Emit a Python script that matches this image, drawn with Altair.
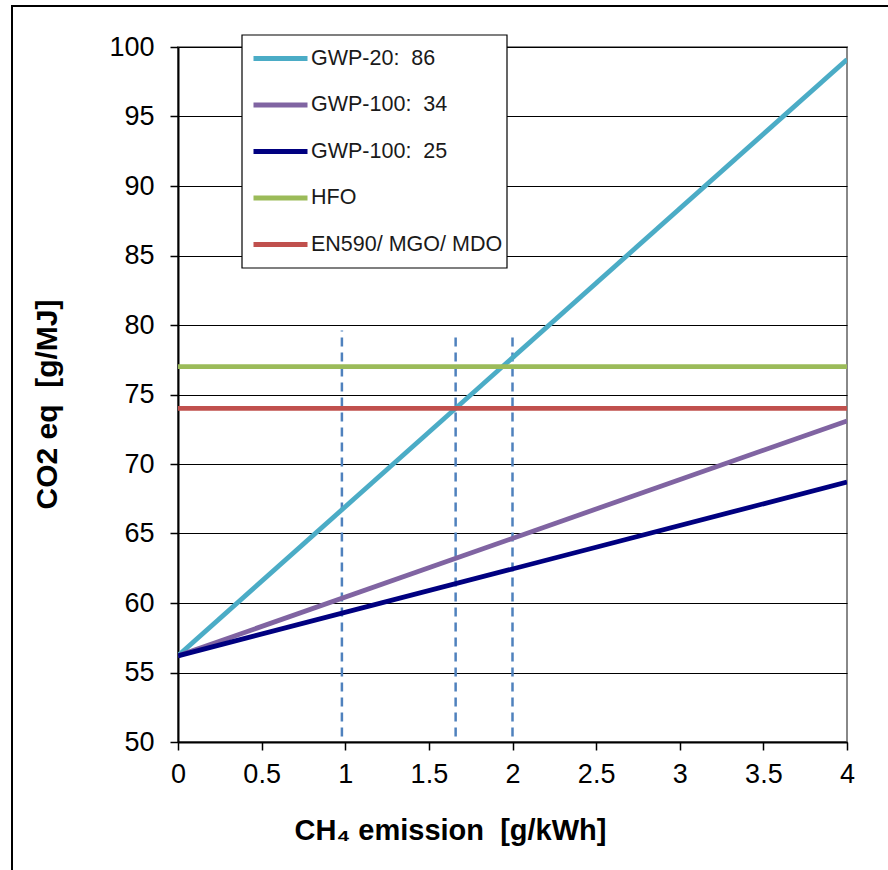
import altair as alt
import pandas as pd

NB = "\u00a0"  # keep double spaces visible in SVG text

# Emission scenarios: CO2-equivalent at 0 and 4 g/kWh CH4 slip
series = [f"GWP-20:{NB}{NB}86", f"GWP-100:{NB}{NB}34", f"GWP-100:{NB}{NB}25",
          "HFO", "EN590/ MGO/ MDO"]
colors = ["#4bacc6", "#8064a2", "#000080", "#9bbb59", "#c0504d"]
x_start = [0, 0, 0, 0, 0]
x_end = [4, 4, 4, 4, 4]
y_start = [56.2, 56.2, 56.2, 77.0, 74.0]
y_end = [99.1, 73.1, 68.7, 77.0, 74.0]

# Dashed reference markers (CH4 emission levels)
marker_x = [0.98, 1.66, 2.0]
marker_top = [79.6, 79.4, 79.5]
marker_bottom = [50.4, 50.4, 50.4]

rows = []
for i, name in enumerate(series):
    rows.append({"series": name, "order": i, "x": x_start[i], "y": y_start[i]})
    rows.append({"series": name, "order": i, "x": x_end[i], "y": y_end[i]})
lines_df = pd.DataFrame(rows)
markers_df = pd.DataFrame({"x": marker_x, "y": marker_bottom, "y2": marker_top})

FONT = "Liberation Sans"
W, H = 669, 695
LEFT, TOP = 178, 47

xscale = alt.Scale(domain=[0, 4], nice=False, zero=False)
yscale = alt.Scale(domain=[50, 100], nice=False, zero=False)

lines = alt.Chart(lines_df).mark_line(strokeWidth=4.8, clip=True).encode(
    x=alt.X("x:Q", scale=xscale,
            axis=alt.Axis(values=[0, 0.5, 1, 1.5, 2, 2.5, 3, 3.5, 4],
                          labelExpr="datum.value",
                          title=f"CH₄ emission{NB}{NB}[g/kWh]",
                          titleX=272, titleY=88, titleBaseline="middle",
                          titleFontSize=29,
                          titleFontWeight="bold", titleFont=FONT,
                          titleColor="#000",
                          labelFont=FONT, labelFontSize=27, labelColor="#000",
                          labelPadding=11, tickSize=8, tickColor="#000",
                          domainColor="#000", domainWidth=2, tickWidth=1.5,
                          grid=False, labelFlush=False)),
    y=alt.Y("y:Q", scale=yscale,
            axis=alt.Axis(values=list(range(50, 101, 5)),
                          title=f"CO2 eq{NB}{NB}[g/MJ]",
                          titleX=-131, titleY=357, titleAngle=-90,
                          titleFontSize=30, titleFontWeight="bold",
                          titleFont=FONT, titleColor="#000",
                          titleAlign="center", titleBaseline="middle",
                          labelFont=FONT, labelFontSize=27, labelColor="#000",
                          labelPadding=16, tickSize=8, tickColor="#000",
                          domainColor="#000", domainWidth=2, tickWidth=1.5,
                          grid=True, gridColor="#000", gridWidth=1.2,
                          gridOpacity=1)),
    color=alt.Color("series:N",
                    scale=alt.Scale(domain=series, range=colors),
                    sort=series,
                    legend=alt.Legend(orient="none", legendX=73, legendY=-18,
                                      title=None, symbolType="stroke",
                                      symbolSize=2916, symbolStrokeWidth=5,
                                      labelFont=FONT, labelFontSize=21.5,
                                      labelColor="#1a1a1a", labelOffset=1,
                                      rowPadding=6.5, padding=0,
                                      labelLimit=400)),
    detail="series:N",
    order="order:Q",
)

markers = alt.Chart(markers_df).mark_rule(
    color="#4f81bd", strokeWidth=2.5, strokeDash=[9, 6]
).encode(
    x=alt.X("x:Q", scale=xscale),
    y=alt.Y("y:Q", scale=yscale),
    y2="y2:Q",
)

one = pd.DataFrame({"k": [0]})

# White legend panel with a thin black border
legend_box = alt.Chart(one).mark_rect(
    fill="#fff", stroke="#000", strokeWidth=1.2
).encode(x=alt.value(242 - LEFT), x2=alt.value(507 - LEFT),
         y=alt.value(35 - TOP), y2=alt.value(268 - TOP))

# Outer frame around the figure (top and left edges)
frame_top = alt.Chart(one).mark_rule(color="#000", strokeWidth=2).encode(
    x=alt.value(11 - LEFT), x2=alt.value(888 - LEFT), y=alt.value(6 - TOP))
frame_left = alt.Chart(one).mark_rule(color="#000", strokeWidth=2).encode(
    x=alt.value(12 - LEFT), y=alt.value(6 - TOP), y2=alt.value(870 - TOP))

chart = alt.layer(markers, lines, legend_box, frame_top, frame_left).properties(
    width=W, height=H,
    autosize=alt.AutoSizeParams(type="none"),
    padding={"left": LEFT, "top": TOP, "right": 888 - LEFT - W, "bottom": 870 - TOP - H},
    background="#fff",
).configure_view(stroke="#888", strokeWidth=2)

chart.save("out.html", embed_options={"renderer": "svg", "actions": False})
